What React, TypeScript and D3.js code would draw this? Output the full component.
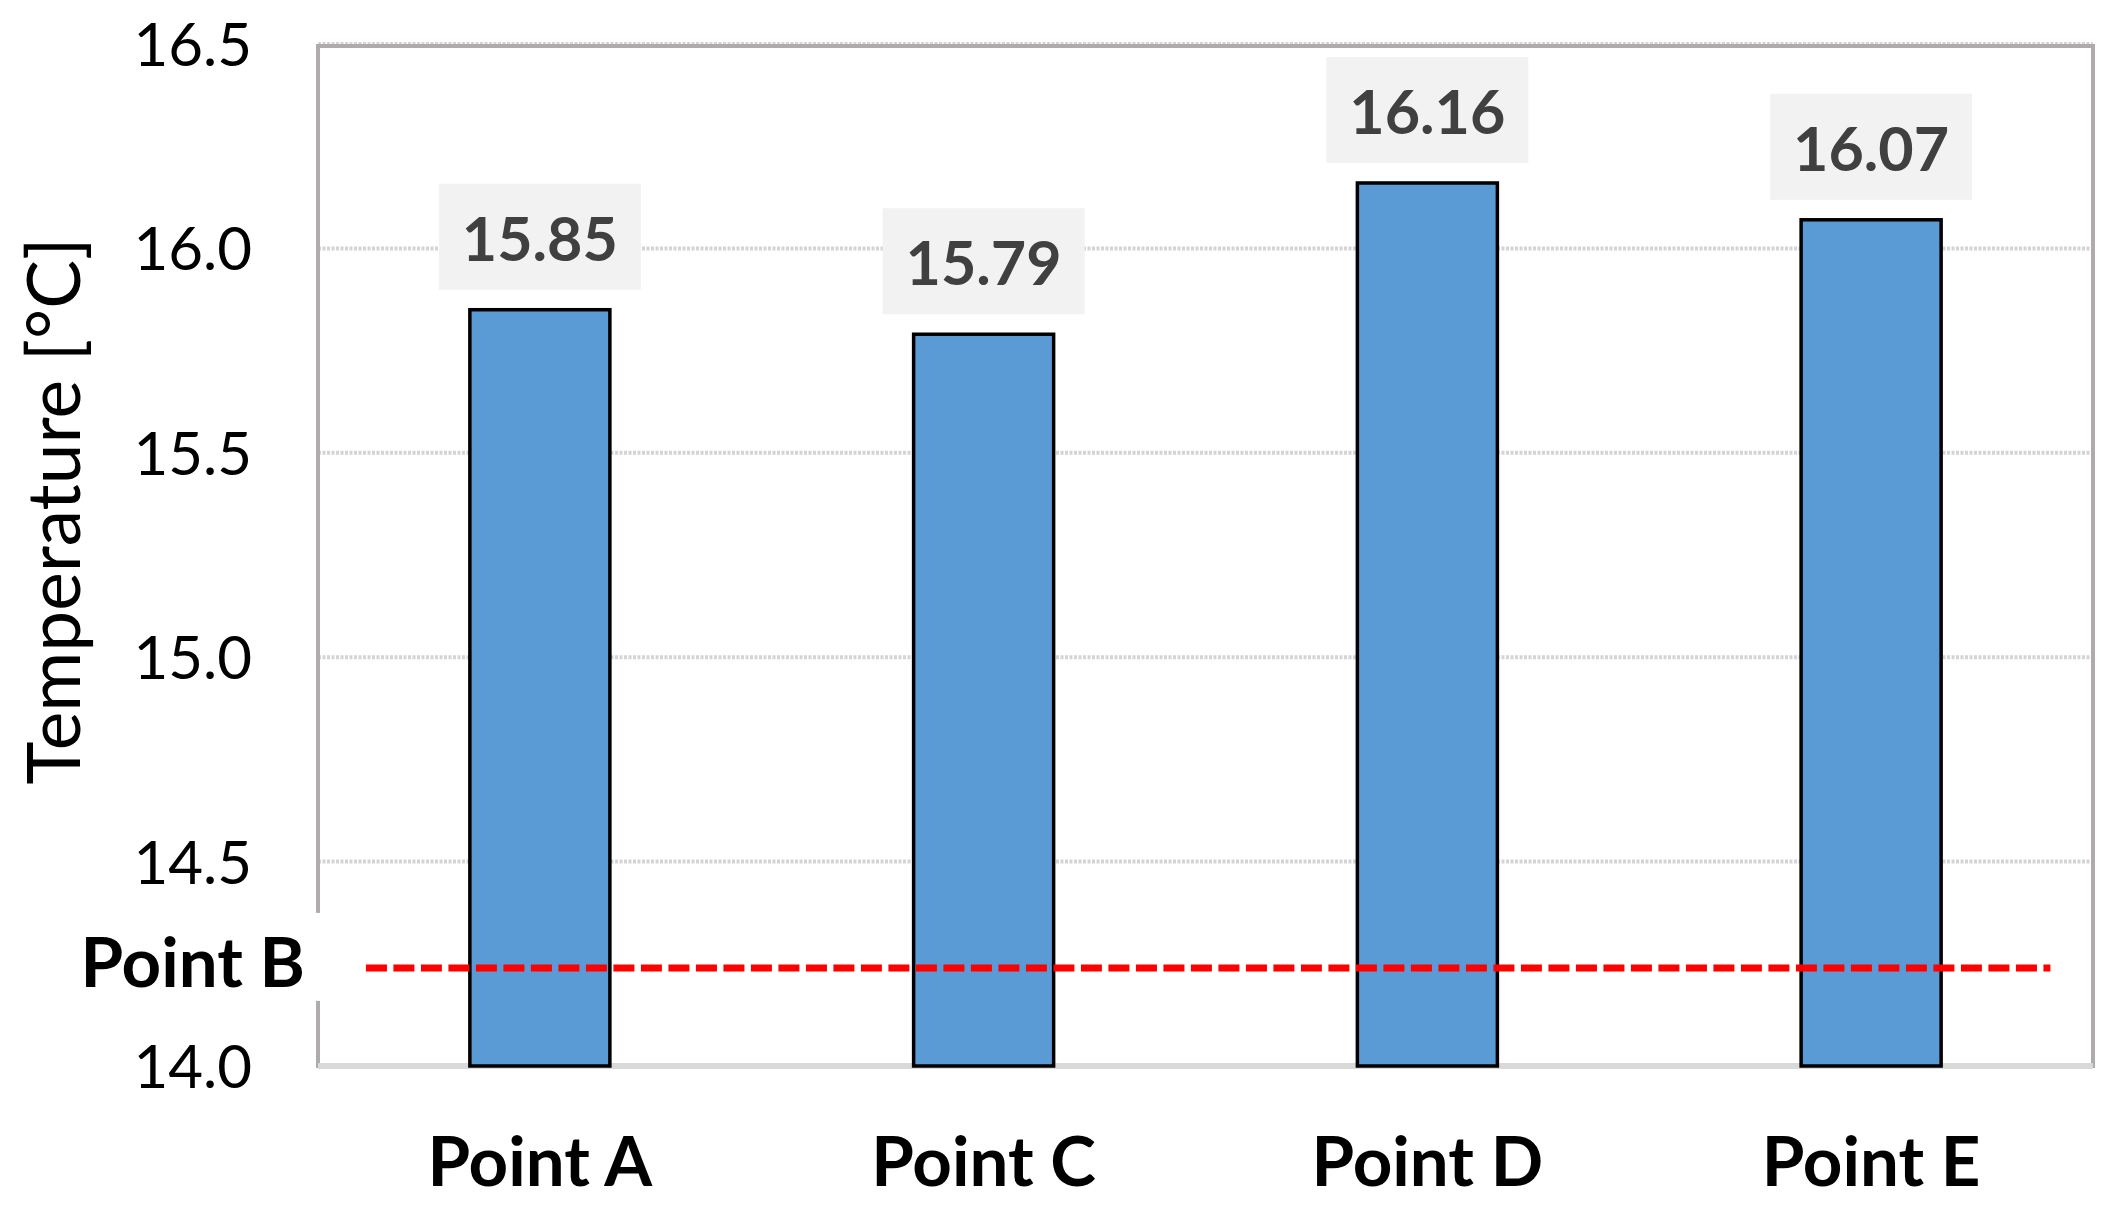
import * as d3 from "d3";

const categories = ["Point A", "Point C", "Point D", "Point E"];
const temps = [15.85, 15.79, 16.16, 16.07];
const yTicks = [14.0, 14.5, 15.0, 15.5, 16.0, 16.5];
const refLabel = "Point B";
const refValue = 14.24;
const yTitle = "Temperature [°C]";

const W = 2117;
const H = 1206;
const FONT = "Lato, 'Open Sans', sans-serif";

export default function App() {
  const plot = { left: 318, right: 2093, top: 44, bottom: 1066 };

  const x = d3
    .scaleBand<string>()
    .domain(categories)
    .range([plot.left, plot.right])
    .paddingInner(0.6845)
    .paddingOuter(0.6845 / 2);

  const y = d3.scaleLinear().domain([14, 16.5]).range([plot.bottom, plot.top]);

  // reference line spans most of the plot, not the full width
  const frac = d3.scaleLinear().domain([0, 1]).range([plot.left, plot.right]);
  const refY = y(refValue);

  return (
    <svg
      width={W}
      height={H}
      style={{ position: "absolute", left: 0, top: 0, background: "#fff" }}
      fontFamily={FONT}
    >
      {/* gridlines */}
      {yTicks.map((t) => (
        <line
          key={t}
          x1={plot.left}
          x2={plot.right}
          y1={y(t)}
          y2={y(t)}
          stroke="#d4d4d4"
          strokeWidth={4}
          strokeDasharray="3 1.5"
        />
      ))}

      {/* plot frame */}
      <rect
        x={plot.left}
        y={plot.top + 2}
        width={plot.right - plot.left}
        height={plot.bottom - plot.top - 2}
        fill="none"
        stroke="#afabab"
        strokeWidth={4}
      />
      <line
        x1={plot.left}
        x2={plot.right}
        y1={plot.bottom}
        y2={plot.bottom}
        stroke="#d9d9d9"
        strokeWidth={6}
      />

      {/* bars */}
      {temps.map((v, i) => (
        <rect
          key={categories[i]}
          x={x(categories[i])}
          y={y(v)}
          width={x.bandwidth()}
          height={y(14) - y(v)}
          fill="#5b9bd5"
          stroke="#000"
          strokeWidth={3.5}
        />
      ))}

      {/* value labels */}
      {temps.map((v, i) => {
        const cx = (x(categories[i]) as number) + x.bandwidth() / 2;
        const bottom = y(v) - 20;
        return (
          <g key={"l" + i}>
            <rect x={cx - 101} y={bottom - 106} width={202} height={106} fill="#f2f2f2" />
            <text
              x={cx}
              y={bottom - 29}
              textAnchor="middle"
              fontSize={61}
              fontWeight="bold"
              fill="#404040"
            >
              {v.toFixed(2)}
            </text>
          </g>
        );
      })}

      {/* reference line */}
      <line
        x1={frac(0.027)}
        x2={frac(0.976)}
        y1={refY}
        y2={refY}
        stroke="#ff0000"
        strokeWidth={7}
        strokeDasharray="21 6.5"
      />
      <rect x={60} y={refY - 55} width={262} height={88} fill="#fff" />
      <text x={305} y={refY + 19} textAnchor="end" fontSize={69} fontWeight="bold" fill="#000">
        {refLabel}
      </text>

      {/* y tick labels */}
      {yTicks.map((t) => (
        <text key={"t" + t} x={252} y={y(t) + 22} textAnchor="end" fontSize={60} fill="#000">
          {d3.format(".1f")(t)}
        </text>
      ))}

      {/* x labels */}
      {categories.map((c) => (
        <text
          key={"x" + c}
          x={(x(c) as number) + x.bandwidth() / 2}
          y={1186}
          textAnchor="middle"
          fontSize={69}
          fontWeight="bold"
          fill="#000"
        >
          {c}
        </text>
      ))}

      {/* y title */}
      <text
        transform={`translate(80,${511}) rotate(-90)`}
        textAnchor="middle"
        fontSize={73}
        fill="#000"
      >
        {yTitle}
      </text>
    </svg>
  );
}
